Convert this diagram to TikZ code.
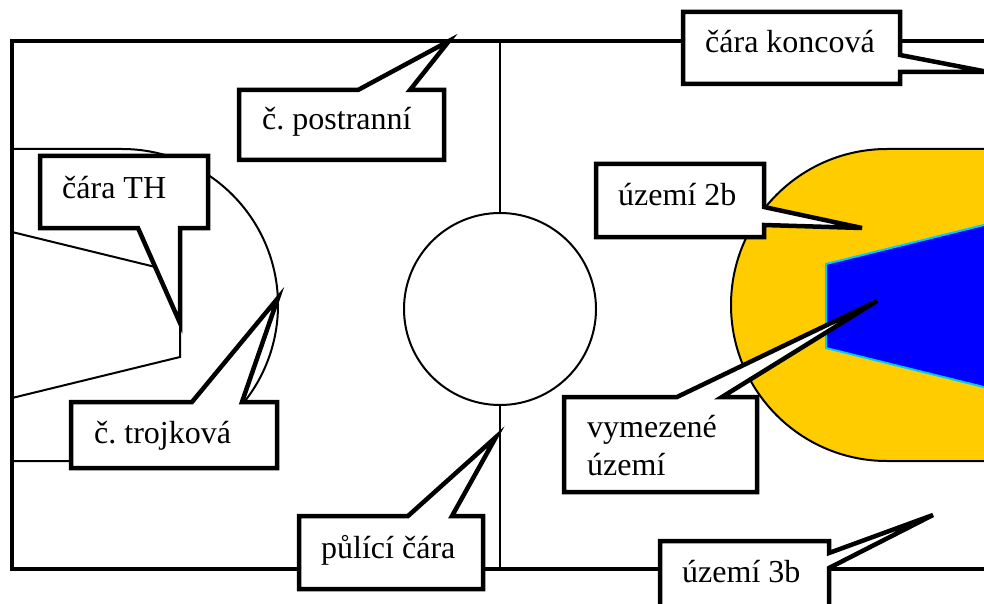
\documentclass[tikz,border=0pt]{standalone}
\usepackage{fontspec}
\setmainfont{Liberation Serif}
\frenchspacing
\definecolor{areagold}{HTML}{FFCC00}
\definecolor{areablue}{HTML}{0000FF}
\definecolor{areacyan}{HTML}{00CCFF}
\tikzset{
  thinline/.style = {draw = black, line width = 2pt},
  fieldline/.style = {draw = black, line width = 4.5pt},
  tagbox/.style = {draw = black, fill = white, line width = 4.5pt, miter limit = 10},
  taglabel/.style = {anchor = base west, inner sep = 0pt, font = \fontsize{32}{39}\selectfont, align = left}
}
\begin{document}
\begin{tikzpicture}[x = 1pt, y = -1pt]
\useasboundingbox (0,0) rectangle (984,604);
\clip (0,0) rectangle (984,604);
% field
\draw[fieldline] (1000,41) -- (12,41) -- (12,569) -- (1000,569);
\draw[thinline] (500,41) -- (500,569);
\draw[thinline, fill = white] (500,309) circle (96);
% three point line, left
\draw[thinline] (12,149) -- (122,149) arc (-90:90:156) -- (12,461);
\draw[thinline] (12,232) -- (180,273) -- (180,357) -- (12,398);
% areas, right
\draw[thinline, fill = areagold] (1000,149) -- (887,149) arc (-90:-270:156) -- (1000,461);
\draw[draw = areacyan, line width = 2pt, fill = areablue] (1000,221) -- (826,264) -- (826,348) -- (1000,391);
% tags
\draw[tagbox] (683,12) -- (900,12) -- (900,55) -- (988,72) -- (900,72) -- (900,84) -- (683,84) -- cycle;
\draw[tagbox] (239,90) -- (358,90) -- (449,41) -- (410,90) -- (444,90) -- (444,160) -- (239,160) -- cycle;
\draw[tagbox] (40,156) -- (208,156) -- (208,228) -- (180,228) -- (180,323) -- (138,228) -- (40,228) -- cycle;
\draw[tagbox] (71,402) -- (192,402) -- (278,298) -- (242,402) -- (277,402) -- (277,468) -- (71,468) -- cycle;
\draw[tagbox] (596,164) -- (764,164) -- (764,207) -- (862,228) -- (764,225) -- (764,237) -- (596,237) -- cycle;
\draw[tagbox] (564,397) -- (677,397) -- (877,301) -- (722,397) -- (757,397) -- (757,492) -- (564,492) -- cycle;
\draw[tagbox] (299,516) -- (408,516) -- (496,437) -- (452,516) -- (483,516) -- (483,589) -- (299,589) -- cycle;
\draw[tagbox] (660,541) -- (829,541) -- (829,553) -- (933,515) -- (829,568) -- (829,620) -- (660,620) -- cycle;
\node[taglabel] (koncova) at (705,53) {čára koncová};
\node[taglabel] (postranni) at (262,130) {č. postranní};
\node[taglabel] (caraTH) at (62,198) {čára TH};
\node[taglabel] (trojkova) at (94,443) {č. trojková};
\node[taglabel] (uzemi2b) at (618,205) {území 2b};
\node[taglabel] (vymezene) at (587,437) {vymezené};
\node[taglabel] (vymezene2) at (587,475) {území};
\node[taglabel] (pulici) at (321,558) {půlící čára};
\node[taglabel] (uzemi3b) at (682,582) {území 3b};
\end{tikzpicture}
\end{document}
